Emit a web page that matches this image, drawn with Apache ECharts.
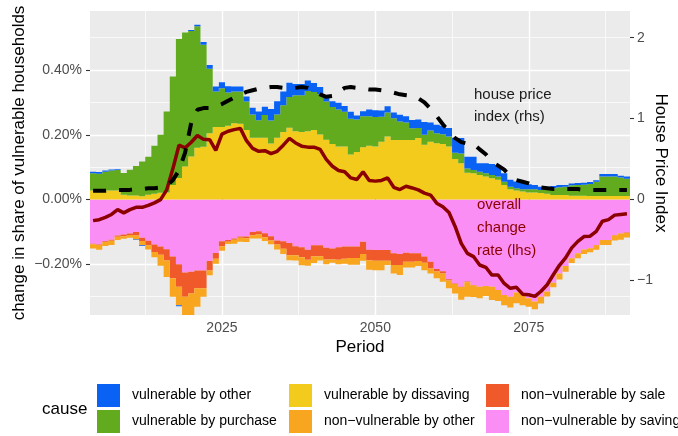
<!DOCTYPE html>
<html>
<head>
<meta charset="utf-8">
<script src="https://cdn.jsdelivr.net/npm/echarts@6/dist/echarts.min.js"></script>
<style>
  html, body { margin: 0; padding: 0; background: #fff; }
  #container { width: 678px; height: 436px; }
</style>
</head>
<body>
<div id="container"></div>
<script>
var FONT = "'Liberation Sans', Arial, Helvetica, sans-serif";

// periods 2004 .. 2091, one bar per year
var firstYear = 2004, lastYear = 2091;
var periods = [];
for (var yr = firstYear; yr <= lastYear; yr++) periods.push(String(yr));

var xTicks = [2025, 2050, 2075];
var xMinor = [2012.5, 2037.5, 2062.5, 2087.5];
var lhsTicks = [-0.2, 0, 0.2, 0.4];
var lhsMinor = [-0.3, -0.1, 0.1, 0.3, 0.5];
var rhsTicks = [-1, 0, 1, 2];
var lhsRange = [-0.3564, 0.5824];   // percent
var rhsPerLhs = 4;                  // 1 index point = 0.25%

// change in share of vulnerable households, in percent
var vulnDissaving = [
  0.028, 0.026, 0.028, 0.028, 0.028, 0.015, 0.013, 0.013, 0.010, 0.015,
  0.018, 0.021, 0.022, 0.045, 0.067, 0.102, 0.133, 0.160, 0.163, 0.205,
  0.224, 0.224, 0.228, 0.236, 0.234, 0.215, 0.191, 0.191, 0.191, 0.173,
  0.191, 0.209, 0.222, 0.211, 0.209, 0.211, 0.215, 0.201, 0.185, 0.172,
  0.164, 0.164, 0.139, 0.147, 0.162, 0.166, 0.164, 0.179, 0.195, 0.184,
  0.184, 0.184, 0.184, 0.190, 0.169, 0.179, 0.174, 0.172, 0.164, 0.125,
  0.112, 0.083, 0.081, 0.076, 0.071, 0.066, 0.061, 0.045, 0.032, 0.028,
  0.025, 0.022, 0.022, 0.020, 0.018, 0.014, 0.014, 0.014, 0.012, 0.012,
  0.012, 0.011, 0.011, 0.011, 0.011, 0.011, 0.011, 0.011
];
var vulnPurchase = [
  0.053, 0.054, 0.058, 0.062, 0.063, 0.067, 0.079, 0.091, 0.108, 0.117,
  0.148, 0.179, 0.250, 0.335, 0.429, 0.414, 0.388, 0.375, 0.315, 0.199,
  0.110, 0.120, 0.103, 0.098, 0.100, 0.088, 0.072, 0.054, 0.070, 0.071,
  0.072, 0.082, 0.095, 0.111, 0.113, 0.124, 0.117, 0.124, 0.118, 0.114,
  0.114, 0.107, 0.111, 0.100, 0.095, 0.091, 0.091, 0.077, 0.074, 0.067,
  0.057, 0.054, 0.036, 0.031, 0.031, 0.034, 0.031, 0.030, 0.031, 0.020,
  0.030, 0.013, 0.010, 0.010, 0.010, 0.010, 0.010, 0.010, 0.008, 0.007,
  0.007, 0.010, 0.010, 0.010, 0.012, 0.021, 0.024, 0.026, 0.032, 0.033,
  0.034, 0.037, 0.044, 0.060, 0.060, 0.060, 0.057, 0.053
];
var vulnOther = [
  0.005, 0.005, 0.004, 0.003, 0.003, 0, 0, -0.002, -0.002, 0,
  0, 0, 0, 0, -0.003, -0.003, 0.003, 0.005, 0.009, 0.012,
  0.015, 0.018, 0.019, 0.015, 0.015, 0.015, 0.021, 0.027, 0.026, 0.036,
  0.041, 0.043, 0.044, 0.035, 0.035, 0.033, 0.028, 0.023, 0.015, 0.018,
  0.021, 0.018, 0.021, 0.013, 0.016, 0.021, 0.021, 0.019, 0.019, 0.018,
  0.021, 0.019, 0.026, 0.026, 0.040, 0.025, 0.026, 0.026, 0.026, 0.046,
  0.048, 0.036, 0.041, 0.026, 0.031, 0.034, 0.034, 0.026, 0.021, 0.021,
  0.019, 0.015, 0.013, 0.010, 0.010, 0.007, 0.007, 0.005, 0.006, 0.006,
  0.006, 0.006, 0.005, 0.008, 0.008, 0.008, 0.006, 0.007
];
var nonVulnSaving = [
  -0.136, -0.139, -0.129, -0.124, -0.111, -0.108, -0.105, -0.100, -0.118, -0.127,
  -0.139, -0.145, -0.153, -0.176, -0.200, -0.225, -0.223, -0.219, -0.219, -0.190,
  -0.165, -0.129, -0.125, -0.120, -0.114, -0.114, -0.100, -0.098, -0.104, -0.113,
  -0.126, -0.129, -0.134, -0.144, -0.147, -0.155, -0.141, -0.141, -0.149, -0.151,
  -0.147, -0.145, -0.145, -0.145, -0.130, -0.155, -0.156, -0.156, -0.156, -0.166,
  -0.168, -0.164, -0.166, -0.166, -0.176, -0.192, -0.214, -0.221, -0.246, -0.259,
  -0.269, -0.253, -0.264, -0.269, -0.267, -0.269, -0.279, -0.295, -0.300, -0.287,
  -0.290, -0.305, -0.315, -0.300, -0.284, -0.257, -0.228, -0.205, -0.181, -0.166,
  -0.154, -0.150, -0.140, -0.125, -0.125, -0.109, -0.104, -0.102
];
var nonVulnSale = [
  -0.002, -0.001, -0.002, -0.003, -0.004, -0.005, -0.004, -0.011, -0.010, -0.014,
  -0.023, -0.025, -0.035, -0.067, -0.069, -0.075, -0.067, -0.055, -0.055, -0.029,
  -0.018, -0.015, -0.005, -0.004, -0.004, -0.005, -0.010, -0.010, -0.012, -0.013,
  -0.013, -0.023, -0.038, -0.028, -0.031, -0.031, -0.034, -0.034, -0.036, -0.034,
  -0.039, -0.038, -0.035, -0.035, -0.038, -0.032, -0.033, -0.033, -0.033, -0.036,
  -0.034, -0.028, -0.026, -0.024, -0.019, -0.021, -0.008, -0.007, -0.004, -0.002,
  -0.001, -0.002, -0.001, 0, 0, 0, 0, 0, 0, 0,
  0, 0, 0, 0, 0, 0, 0, 0, 0, 0,
  0, 0, 0, 0, 0, -0.002, -0.001, -0.001
];
var nonVulnOther = [
  -0.013, -0.015, -0.012, -0.013, -0.010, -0.008, -0.009, -0.012, -0.013, -0.013,
  -0.016, -0.034, -0.051, -0.057, -0.057, -0.057, -0.067, -0.057, -0.026, -0.015,
  -0.015, -0.014, -0.007, -0.012, -0.012, -0.012, -0.010, -0.012, -0.012, -0.012,
  -0.015, -0.016, -0.015, -0.016, -0.025, -0.018, -0.021, -0.013, -0.015, -0.010,
  -0.014, -0.015, -0.021, -0.021, -0.021, -0.030, -0.029, -0.029, -0.013, -0.026,
  -0.031, -0.018, -0.018, -0.015, -0.023, -0.015, -0.021, -0.026, -0.024, -0.029,
  -0.039, -0.045, -0.036, -0.036, -0.031, -0.041, -0.034, -0.031, -0.033, -0.033,
  -0.036, -0.026, -0.024, -0.021, -0.015, -0.014, -0.019, -0.018, -0.015, -0.015,
  -0.014, -0.013, -0.015, -0.015, -0.015, -0.015, -0.019, -0.014
];

// overall change rate (lhs, percent)
var overallRate = [
  -0.065, -0.062, -0.055, -0.046, -0.031, -0.041, -0.031, -0.024, -0.024, -0.018,
  -0.010, 0.000, 0.030, 0.095, 0.168, 0.160, 0.177, 0.198, 0.186, 0.185,
  0.152, 0.202, 0.211, 0.216, 0.220, 0.182, 0.158, 0.149, 0.151, 0.142,
  0.149, 0.168, 0.189, 0.175, 0.165, 0.162, 0.162, 0.155, 0.124, 0.103,
  0.090, 0.086, 0.067, 0.062, 0.086, 0.059, 0.057, 0.059, 0.067, 0.038,
  0.031, 0.041, 0.036, 0.030, 0.020, 0.014, -0.011, -0.022, -0.040, -0.083,
  -0.135, -0.166, -0.176, -0.202, -0.209, -0.233, -0.233, -0.259, -0.274, -0.271,
  -0.292, -0.294, -0.299, -0.283, -0.263, -0.232, -0.203, -0.180, -0.149, -0.129,
  -0.114, -0.113, -0.098, -0.067, -0.062, -0.048, -0.046, -0.044
];

// house price index (rhs)
var housePrice = [
  0.11, 0.11, 0.11, 0.12, 0.12, 0.12, 0.12, 0.13, 0.13, 0.14,
  0.14, 0.15, 0.17, 0.24, 0.36, 0.58, 0.95, 1.11, 1.13, 1.13,
  1.15, 1.18, 1.22, 1.26, 1.30, 1.33, 1.35, 1.37, 1.38, 1.39,
  1.39, 1.38, 1.37, 1.38, 1.39, 1.38, 1.35, 1.30, 1.27, 1.28,
  1.33, 1.38, 1.39, 1.38, 1.37, 1.36, 1.36, 1.35, 1.34, 1.32,
  1.30, 1.29, 1.28, 1.25, 1.20, 1.12, 1.03, 0.93, 0.84, 0.76,
  0.71, 0.69, 0.69, 0.62, 0.56, 0.47, 0.42, 0.37, 0.29, 0.24,
  0.22, 0.20, 0.17, 0.15, 0.14, 0.13, 0.13, 0.13, 0.13, 0.13,
  0.12, 0.12, 0.12, 0.12, 0.12, 0.12, 0.12, 0.12
];

var MINUS = '\u2212';
var names = {
  vOther: 'vulnerable by other',
  vPurchase: 'vulnerable by purchase',
  vDissaving: 'vulnerable by dissaving',
  nOther: 'non' + MINUS + 'vulnerable by other',
  nSale: 'non' + MINUS + 'vulnerable by sale',
  nSaving: 'non' + MINUS + 'vulnerable by saving'
};
var colors = {
  vOther: '#0A62F5',
  vPurchase: '#63AB1E',
  vDissaving: '#F2CB1D',
  nOther: '#F8A51F',
  nSale: '#F05A2A',
  nSaving: '#FB8EF4'
};

var dom = document.getElementById('container');
var myChart = echarts.init(dom, null, { renderer: 'canvas' });

// large mode fills all bars of a series as one path, so adjacent bars leave no seams
var bar = function(key, data) {
  return {
    name: names[key],
    type: 'bar',
    stack: 'cause',
    data: data,
    xAxisIndex: 0,
    yAxisIndex: 0,
    barWidth: '100%',
    large: true,
    largeThreshold: 10,
    itemStyle: { color: colors[key] },
    emphasis: { disabled: true },
    silent: true,
    z: 2
  };
};

var legendBlock = function(left, items) {
  return {
    orient: 'vertical',
    left: left,
    top: 384,
    padding: 0,
    itemWidth: 23,
    itemHeight: 23,
    itemGap: 3,
    icon: 'rect',
    selectedMode: false,
    data: items,
    itemStyle: { borderWidth: 0 },
    textStyle: { fontSize: 14, color: '#000', fontFamily: FONT, padding: [0, 0, 0, 7] }
  };
};

var tickText = { color: '#4D4D4D', fontSize: 14, fontFamily: FONT };
var titleText = { color: '#000', fontSize: 17, fontFamily: FONT };
var tickLine = { color: '#333333', width: 1.1 };

var pctLabel = function(v) {
  return (v < 0 ? MINUS : '') + Math.abs(v).toFixed(2) + '%';
};

var option = {
  animation: false,
  backgroundColor: '#fff',
  textStyle: { fontFamily: FONT },
  grid: {
    left: 90, right: 48, top: 11, bottom: 121,
    show: true, backgroundColor: '#EBEBEB', borderWidth: 0,
    containLabel: false, outerBoundsMode: 'none'
  },
  xAxis: [
    { type: 'category', data: periods, show: false, boundaryGap: true },
    {
      type: 'value', min: firstYear - 0.5, max: lastYear + 0.5, position: 'bottom',
      name: 'Period', nameLocation: 'middle', nameGap: 24, nameTextStyle: titleText,
      nameMoveOverlap: false,
      axisLine: { show: false },
      axisTick: { show: true, customValues: xTicks, length: 4, lineStyle: tickLine },
      axisLabel: Object.assign({
        customValues: xTicks, margin: 6,
        formatter: function(v) { return String(v); }
      }, tickText),
      splitLine: { show: true, lineStyle: { color: '#fff', width: 1.4 } }
    },
    {
      type: 'value', min: firstYear - 0.5, max: lastYear + 0.5, position: 'bottom',
      axisLine: { show: false },
      axisTick: { show: false, customValues: xMinor },
      axisLabel: { show: false, customValues: xMinor },
      splitLine: { show: true, lineStyle: { color: '#fff', width: 0.7 } }
    }
  ],
  yAxis: [
    {
      type: 'value', position: 'left', min: lhsRange[0], max: lhsRange[1],
      name: 'change in share of vulnerable households', nameLocation: 'middle',
      nameGap: 62, nameTextStyle: titleText, nameMoveOverlap: false,
      axisLine: { show: false },
      axisTick: { show: true, customValues: lhsTicks, length: 4, lineStyle: tickLine },
      axisLabel: Object.assign({ customValues: lhsTicks, margin: 8, formatter: pctLabel }, tickText),
      splitLine: { show: true, lineStyle: { color: '#fff', width: 1.4 } }
    },
    {
      type: 'value', position: 'right',
      min: lhsRange[0] * rhsPerLhs, max: lhsRange[1] * rhsPerLhs,
      name: 'House Price Index', nameLocation: 'middle', nameRotate: -90,
      nameGap: 22, nameTextStyle: titleText, nameMoveOverlap: false,
      axisLine: { show: false },
      axisTick: { show: true, customValues: rhsTicks, length: 4, lineStyle: tickLine },
      axisLabel: Object.assign({
        customValues: rhsTicks, margin: 7,
        formatter: function(v) { return v < 0 ? MINUS + Math.abs(v) : String(v); }
      }, tickText),
      splitLine: { show: false }
    },
    {
      type: 'value', position: 'left', min: lhsRange[0], max: lhsRange[1],
      axisLine: { show: false },
      axisTick: { show: false, customValues: lhsMinor },
      axisLabel: { show: false, customValues: lhsMinor },
      splitLine: { show: true, lineStyle: { color: '#fff', width: 0.7 } }
    }
  ],
  legend: [
    legendBlock(97, [names.vOther, names.vPurchase]),
    legendBlock(289, [names.vDissaving, names.nOther]),
    legendBlock(486, [names.nSale, names.nSaving])
  ],
  graphic: [
    {
      type: 'text', left: 42, top: 401, silent: true,
      style: { text: 'cause', fontSize: 17, fontFamily: FONT, fill: '#000' }
    },
    {
      type: 'text', left: 474, top: 84, silent: true, z: 10,
      style: { text: 'house price\nindex (rhs)', fontSize: 15, lineHeight: 22, fontFamily: FONT, fill: '#1a1a1a' }
    },
    {
      type: 'text', left: 477, top: 193, silent: true, z: 10,
      style: { text: 'overall\nchange\nrate (lhs)', fontSize: 15, lineHeight: 23, fontFamily: FONT, fill: '#8B0000' }
    }
  ],
  series: [
    bar('nSaving', nonVulnSaving),
    bar('nSale', nonVulnSale),
    bar('nOther', nonVulnOther),
    bar('vDissaving', vulnDissaving),
    bar('vPurchase', vulnPurchase),
    bar('vOther', vulnOther),
    {
      name: 'overall change rate', type: 'line', data: overallRate,
      xAxisIndex: 0, yAxisIndex: 0, symbol: 'none', silent: true,
      lineStyle: { color: '#8B0000', width: 3.5 }, z: 5
    },
    {
      name: 'house price index', type: 'line', data: housePrice,
      xAxisIndex: 0, yAxisIndex: 1, symbol: 'none', silent: true,
      lineStyle: { color: '#000', width: 4, type: [13, 13] }, z: 6
    }
  ]
};

myChart.setOption(option);
</script>
</body>
</html>
